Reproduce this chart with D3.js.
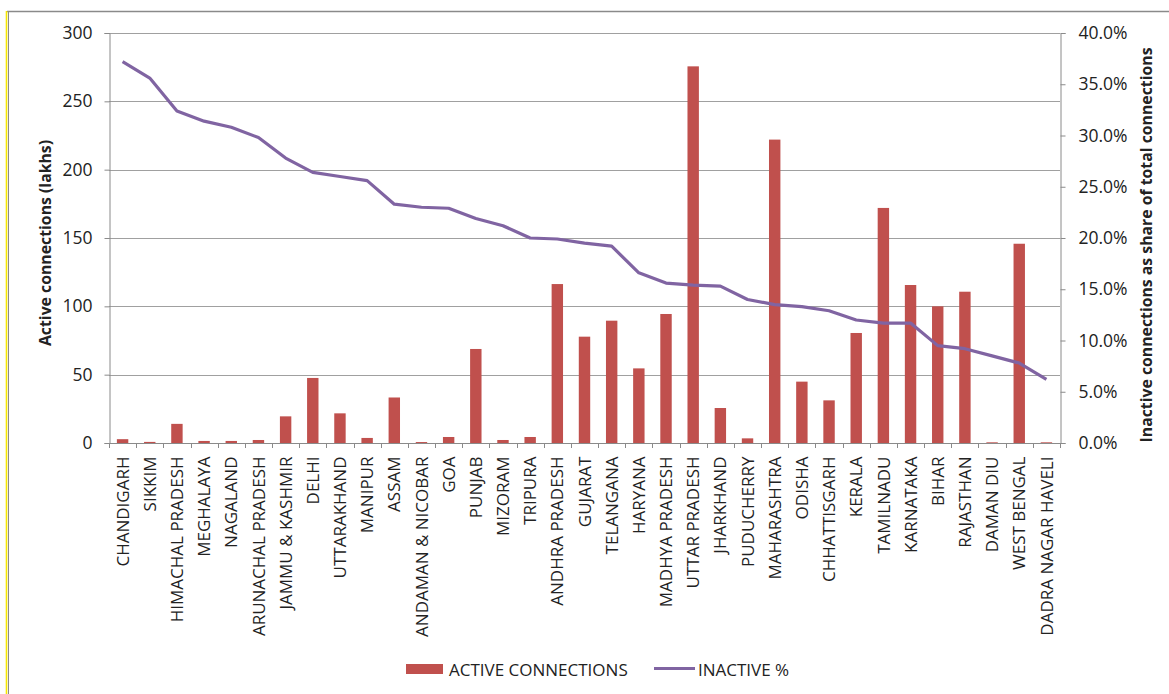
<!DOCTYPE html>
<html>
<head>
<meta charset="utf-8">
<script src="https://cdn.jsdelivr.net/npm/d3@7"></script>
<style>
  html, body { margin: 0; padding: 0; background: #fff; }
  svg { display: block; }
  text { font-family: "Open Sans", Lato, sans-serif; fill: #222; }
</style>
</head>
<body>
<svg id="chart" width="1169" height="694"></svg>
<script>
const states = ["CHANDIGARH","SIKKIM","HIMACHAL PRADESH","MEGHALAYA","NAGALAND","ARUNACHAL PRADESH","JAMMU & KASHMIR","DELHI","UTTARAKHAND","MANIPUR","ASSAM","ANDAMAN & NICOBAR","GOA","PUNJAB","MIZORAM","TRIPURA","ANDHRA PRADESH","GUJARAT","TELANGANA","HARYANA","MADHYA PRADESH","UTTAR PRADESH","JHARKHAND","PUDUCHERRY","MAHARASHTRA","ODISHA","CHHATTISGARH","KERALA","TAMILNADU","KARNATAKA","BIHAR","RAJASTHAN","DAMAN DIU","WEST BENGAL","DADRA NAGAR HAVELI"];
const activeConnections = [2.8,0.8,14,1.5,1.5,2.2,19.5,47.6,21.7,3.7,33.3,0.7,4.4,68.8,2.2,4.4,116.3,77.8,89.5,54.6,94.4,275.6,25.6,3.4,222,44.9,31.2,80.5,172,115.6,100,110.7,0.5,145.8,0.5];
const inactivePct = [37.2,35.6,32.4,31.4,30.8,29.8,27.8,26.4,26.0,25.6,23.3,23.0,22.9,21.9,21.2,20.0,19.9,19.5,19.2,16.6,15.6,15.4,15.3,14.0,13.5,13.3,12.9,12.0,11.7,11.7,9.5,9.2,8.5,7.8,6.2];
const leftTicks = [0,50,100,150,200,250,300];
const rightTicks = [0,5,10,15,20,25,30,35,40];
const seriesNames = ["ACTIVE CONNECTIONS","INACTIVE %"];

const barColor = "#c0504d", lineColor = "#8064a2";
const svg = d3.select("#chart");
const L = 109, R = 1060, T = 33, B = 443;
const FONT = "'Open Sans', sans-serif";

// frame
svg.append("line").attr("x1",7).attr("x2",1169).attr("y1",11.5).attr("y2",11.5).attr("stroke","#8a8a8a").attr("stroke-width",1.5);
svg.append("line").attr("x1",8.5).attr("x2",8.5).attr("y1",11).attr("y2",694).attr("stroke","#8a8a8a").attr("stroke-width",1);
svg.append("line").attr("x1",6.5).attr("x2",6.5).attr("y1",11).attr("y2",694).attr("stroke","#f5e600").attr("stroke-width",1.6);

const x = d3.scaleBand().domain(states).range([L, R]).paddingInner(0.58).paddingOuter(0.29);
const xb = d3.scaleBand().domain(states).range([L, R]);
const y = d3.scaleLinear().domain([0,300]).range([B, T]);
const y2 = d3.scaleLinear().domain([0,40]).range([B, T]);

// gridlines
svg.append("g").selectAll("line").data(leftTicks.filter(d=>d>0)).join("line")
  .attr("x1", L).attr("x2", R)
  .attr("y1", d=>Math.round(y(d))+0.5).attr("y2", d=>Math.round(y(d))+0.5)
  .attr("stroke","#a0a0a0").attr("stroke-width",1);

// bars
svg.append("g").selectAll("rect").data(states).join("rect")
  .attr("x", (d)=>x(d))
  .attr("width", x.bandwidth())
  .attr("y", (d,i)=>y(activeConnections[i]))
  .attr("height", (d,i)=>B - y(activeConnections[i]))
  .attr("fill", barColor);

// left axis
const gl = svg.append("g").attr("transform",`translate(${L+0.5},0)`)
  .call(d3.axisLeft(y).tickValues(leftTicks).tickSize(5).tickPadding(12).tickFormat(d3.format("d")));
gl.select(".domain").attr("stroke","#8a8a8a");
gl.selectAll(".tick line").attr("stroke","#8a8a8a");
gl.selectAll("text").attr("font-size",17.5).attr("font-family",FONT).attr("fill","#222");

// right axis
const gr = svg.append("g").attr("transform",`translate(${R+0.5},0)`)
  .call(d3.axisRight(y2).tickValues(rightTicks).tickSize(5).tickPadding(13).tickFormat(d=>d.toFixed(1)+"%"));
gr.select(".domain").attr("stroke","#8a8a8a");
gr.selectAll(".tick line").attr("stroke","#8a8a8a");
gr.selectAll("text").attr("font-size",17.5).attr("font-family",FONT).attr("fill","#222");

// bottom axis
const gb = svg.append("g").attr("transform",`translate(0,${B+0.5})`)
  .call(d3.axisBottom(xb).tickSize(0).tickPadding(0));
gb.select(".domain").attr("stroke","#8a8a8a").attr("d",`M${L},0H${R}`);
gb.selectAll(".tick text")
  .attr("font-size",17).attr("font-family",FONT).attr("fill","#222")
  .attr("transform","rotate(-90)")
  .attr("text-anchor","end").attr("dy","0.36em").attr("x",-13).attr("y",0);
// x tick marks at band boundaries
svg.append("g").selectAll("line").data(states.concat(["_end"])).join("line")
  .attr("x1",(d,i)=>Math.round(L + i*xb.step())+0.5)
  .attr("x2",(d,i)=>Math.round(L + i*xb.step())+0.5)
  .attr("y1",B).attr("y2",B+5).attr("stroke","#8a8a8a");

// line
const line = d3.line().x((d,i)=>xb(states[i]) + xb.bandwidth()/2).y(d=>y2(d));
svg.append("path").datum(inactivePct).attr("d", line)
  .attr("fill","none").attr("stroke",lineColor).attr("stroke-width",3.2).attr("stroke-linejoin","round");

// axis titles
svg.append("text").attr("transform",`translate(51,${(T+B)/2+5}) rotate(-90)`)
  .attr("text-anchor","middle").attr("font-size",15.8).attr("font-weight","bold").attr("fill","#000").text("Active connections (lakhs)");
svg.append("text").attr("transform",`translate(1152,${(T+B)/2+7}) rotate(-90)`)
  .attr("text-anchor","middle").attr("font-size",15.8).attr("font-weight","bold").attr("fill","#000").text("Inactive connections as share of total connections");

// legend
const lg = svg.append("g");
lg.append("rect").attr("x",406).attr("y",664).attr("width",37).attr("height",10).attr("fill",barColor);
lg.append("text").attr("x",449).attr("y",676).attr("font-size",17).text(seriesNames[0]);
lg.append("line").attr("x1",654).attr("x2",695).attr("y1",668.5).attr("y2",668.5).attr("stroke",lineColor).attr("stroke-width",3);
lg.append("text").attr("x",698).attr("y",676).attr("font-size",17).text(seriesNames[1]);
</script>
</body>
</html>
